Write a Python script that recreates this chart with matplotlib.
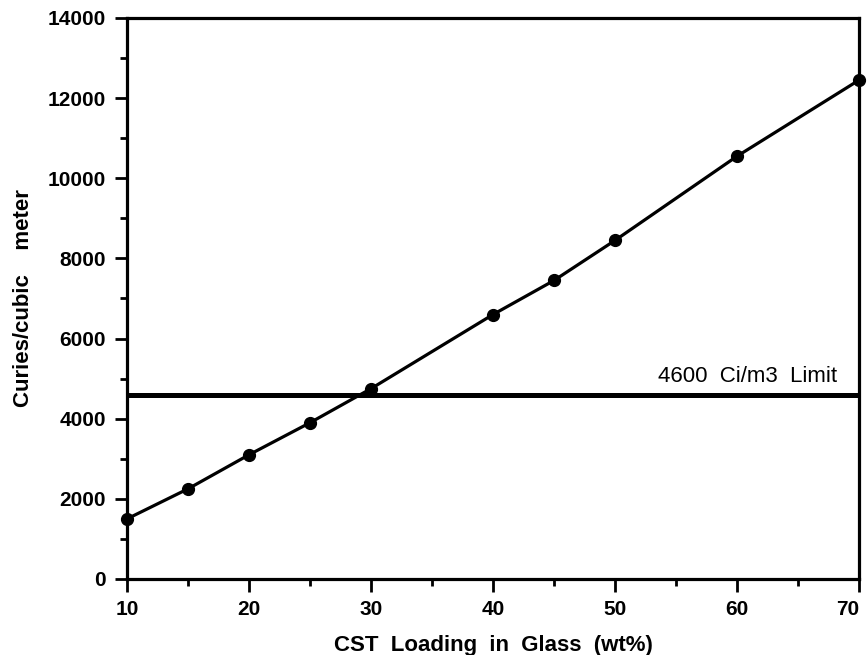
import matplotlib
matplotlib.use("Agg")
import matplotlib.pyplot as plt
from matplotlib.ticker import MultipleLocator

loading = [10, 15, 20, 25, 30, 40, 45, 50, 60, 70]
curies = [1500, 2250, 3100, 3900, 4750, 6600, 7450, 8450, 10550, 12450]
limit_value = 4600
limit_label = "4600  Ci/m3  Limit"
x_ticks = [10, 20, 30, 40, 50, 60, 70]
y_ticks = [0, 2000, 4000, 6000, 8000, 10000, 12000, 14000]

plt.rcParams['font.family'] = ['Liberation Sans', 'DejaVu Sans']

fig = plt.figure(figsize=(8.68, 6.55), dpi=100)
ax = fig.add_axes([127/868, 1 - 579/655, (859-127)/868, (579-18)/655])

ax.plot(loading, curies, color='black', lw=2.3, marker='o', ms=8.5, zorder=3, clip_on=False)
ax.axhline(limit_value, color='black', lw=3.6, zorder=2)
ax.text(68.2, 5050, limit_label, ha='right', va='center', fontsize=16)

ax.set_xlim(10, 70)
ax.set_ylim(0, 14000)
ax.set_xticks(x_ticks)
ax.set_yticks(y_ticks)
ax.xaxis.set_minor_locator(MultipleLocator(5))
ax.yaxis.set_minor_locator(MultipleLocator(1000))
ax.tick_params(which='major', direction='out', length=9, width=2, labelsize=15, pad=6)
ax.tick_params(which='minor', direction='out', length=5, width=2)
for lbl in ax.get_xticklabels() + ax.get_yticklabels():
    lbl.set_fontweight('bold')
xl = ax.get_xticklabels()
xl[-1].set_horizontalalignment('right')
for s in ax.spines.values():
    s.set_linewidth(2.3)

ax.set_xlabel("CST  Loading  in  Glass  (wt%)", fontsize=16, fontweight='bold', labelpad=12)
ax.set_ylabel("Curies/cubic    meter", fontsize=16, fontweight='bold', labelpad=10)

fig.savefig("out.png", dpi=100)
